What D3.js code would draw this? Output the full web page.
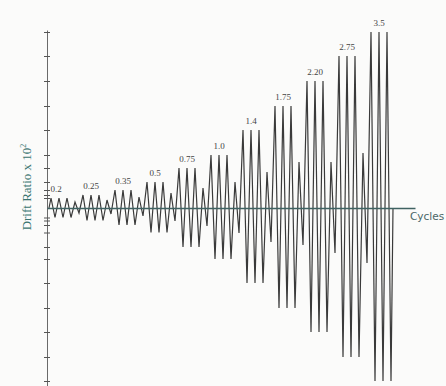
<!DOCTYPE html>
<html>
<head>
<meta charset="utf-8">
<script src="https://cdn.jsdelivr.net/npm/d3@7"></script>
<style>
  html, body { margin: 0; padding: 0; background: #fbfbfa; }
  svg { display: block; }
</style>
</head>
<body>
<div id="chart"></div>
<script>
// drift levels of the loading protocol (labels as printed)
const levelLabels = ["0.2", "0.25", "0.35", "0.5", "0.75", "1.0", "1.4", "1.75", "2.20", "2.75", "3.5"];
// drawn amplitude of the three main cycles at each level
const peakValues = [0.20, 0.26, 0.36, 0.52, 0.80, 1.06, 1.56, 2.04, 2.54, 3.04, 3.52];
const troughValues = [-0.19, -0.25, -0.34, -0.49, -0.78, -1.02, -1.50, -2.00, -2.48, -2.98, -3.46];
// small cycle that follows each level
const smallPeaks = [0.12, 0.16, 0.22, 0.30, 0.40, 0.52, 0.72, 0.92, 0.92, 1.10];
const smallTroughs = [-0.10, -0.12, -0.16, -0.26, -0.36, -0.50, -0.68, -0.74, -0.90, -1.10];

const width = 446, height = 386;

const svg = d3.select("#chart")
  .append("svg")
  .attr("width", width)
  .attr("height", height);

const x = d3.scaleLinear().domain([-0.25, 45.75]).range([47, 415]);
const y = d3.scaleLinear().domain([-3.56, 3.56]).range([386, 30]);

// build the triangular drift history, cycle by cycle
const points = [{ c: 0, v: 0 }];
let cyc = 0;
levelLabels.forEach((lab, k) => {
  for (let j = 0; j < 3; j++) {
    points.push({ c: cyc + 0.25, v: peakValues[k] });
    points.push({ c: cyc + 0.75, v: troughValues[k] });
    cyc++;
  }
  if (k < smallPeaks.length) {
    points.push({ c: cyc + 0.25, v: smallPeaks[k] });
    points.push({ c: cyc + 0.75, v: smallTroughs[k] });
    cyc++;
  }
});
points.push({ c: cyc, v: 0 });

// vertical axis, ticks at the drawn levels
const yTicks = peakValues.concat(troughValues);
const yAxis = svg.append("g")
  .attr("transform", `translate(${x(-0.25)},0)`)
  .call(d3.axisLeft(y).tickValues(yTicks).tickSize(3).tickSizeOuter(0).tickFormat(""));
yAxis.select(".domain").attr("stroke", "#6a6a6a").attr("stroke-width", 1);
yAxis.selectAll(".tick line").attr("x1", 3).attr("stroke", "#555").attr("stroke-width", 1);

// waveform
const line = d3.line().x(d => x(d.c)).y(d => y(d.v));
svg.append("path")
  .datum(points)
  .attr("fill", "none")
  .attr("stroke", "#3a3a3a")
  .attr("stroke-width", 1.2)
  .attr("stroke-linejoin", "miter")
  .attr("d", line);

// zero line (cycles axis)
const xAxis = svg.append("g")
  .attr("transform", `translate(0,${y(0)})`)
  .call(d3.axisBottom(x).tickValues([]).tickSizeOuter(0));
xAxis.select(".domain").attr("stroke", "#3f6262").attr("stroke-width", 1.3);

// level labels above the middle cycle of each group
svg.selectAll(".lvl")
  .data(levelLabels)
  .enter()
  .append("text")
  .attr("class", "lvl")
  .attr("x", (d, k) => x(4 * k + 1.25) - (k === 0 ? 3 : 0))
  .attr("y", (d, k) => y(peakValues[k]) - 6)
  .attr("text-anchor", "middle")
  .attr("font-family", "'Liberation Serif', serif")
  .attr("font-size", 9)
  .attr("fill", "#444")
  .text(d => d);

svg.append("text")
  .attr("x", 410)
  .attr("y", 220)
  .attr("font-family", "'DejaVu Sans', sans-serif")
  .attr("font-size", 10.5)
  .attr("fill", "#4a6666")
  .text("Cycles");

const yLab = svg.append("text")
  .attr("transform", "translate(31,187) rotate(-90)")
  .attr("text-anchor", "middle")
  .attr("font-family", "'Liberation Serif', serif")
  .attr("font-size", 13)
  .attr("fill", "#3a7470");
yLab.append("tspan").text("Drift Ratio x 10");
yLab.append("tspan").attr("dy", -5).attr("font-size", 8).text("2");
</script>
</body>
</html>
